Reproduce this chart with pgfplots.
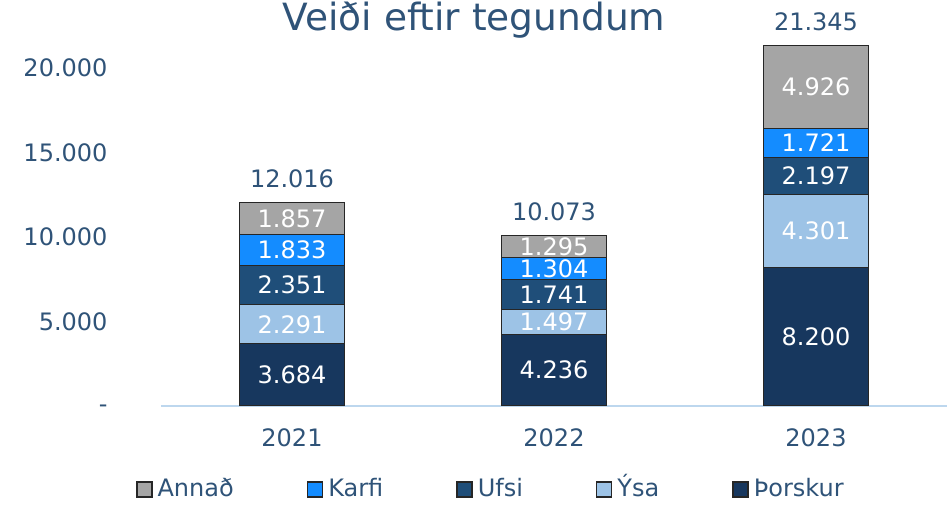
\documentclass[border=0pt]{standalone}
\usepackage{pgfplots}
\pgfplotsset{compat=1.18}
\usepackage{pgfplotstable}
\usepackage{fontspec}
\setmainfont{DejaVu Sans}
\definecolor{txt}{HTML}{2F5378}
\definecolor{cThor}{HTML}{17375E}
\definecolor{cYsa}{HTML}{9DC3E6}
\definecolor{cUfsi}{HTML}{1F4E79}
\definecolor{cKarfi}{HTML}{148CFF}
\definecolor{cAnnad}{HTML}{A5A5A5}
\definecolor{cAxis}{HTML}{BDD7EE}
\newcommand\fs{\fontsize{24}{28}\selectfont}

\pgfplotstableread{
x Thorskur Ysa Ufsi Karfi Annad
0 3684 2291 2351 1833 1857
1 4236 1497 1741 1304 1295
2 8200 4301 2197 1721 4926
}\data

\pgfplotstableread{
x y label
0 1842 3.684
0 4829.5 2.291
0 7150.5 2.351
0 9242.5 1.833
0 11087.5 1.857
1 2118 4.236
1 4984.5 1.497
1 6603.5 1.741
1 8126 1.304
1 9425.5 1.295
2 4100 8.200
2 10350.5 4.301
2 13599.5 2.197
2 15558.5 1.721
2 18882 4.926
}\labels

\pgfplotstableread{
x y label
0 12016 12.016
1 10073 10.073
2 21345 21.345
}\totals

\begin{document}
\begin{tikzpicture}
\pgfplotsset{
  common/.style={
    at={(161pt,99pt)}, anchor=south west,
    scale only axis, width=786pt, height=372pt,
    xmin=-0.5, xmax=2.5, ymin=0, ymax=22000,
    scaled y ticks=false,
    /pgf/number format/assume math mode=true,
  }
}
\begin{axis}[
  common,
  ybar stacked, bar width=105pt,
  axis lines*=left,
  y axis line style={draw=none},
  x axis line style={draw=cAxis, line width=2pt},
  major tick length=0pt,
  xtick={0,1,2}, xticklabels={2021,2022,2023},
  ytick={0,5000,10000,15000,20000},
  yticklabels={\raisebox{-7pt}[0pt][0pt]{-},5.000,10.000,15.000,20.000},
  ticklabel style={font=\fs, text=txt},
  xticklabel style={yshift=-19pt},
  yticklabel style={xshift=-50pt},
  reverse legend,
  legend columns=5,
  legend style={draw=none, fill=none, font=\fs, text=txt,
    at={(-0.032,-0.226)}, anchor=west, inner xsep=0pt,
    nodes={text height=18pt, text depth=5pt, inner xsep=5pt},
    /tikz/every even column/.append style={column sep=68pt}},
  legend image code/.code={\draw[#1, draw=black!85, line width=1.5pt] (0pt,-7pt) rectangle (15pt,8pt);},
]
\addplot[fill=cThor, draw=black!85, line width=1pt] table[x=x, y=Thorskur] {\data};
\addlegendentry{Þorskur}
\addplot[fill=cYsa, draw=black!85, line width=1pt] table[x=x, y=Ysa] {\data};
\addlegendentry{Ýsa}
\addplot[fill=cUfsi, draw=black!85, line width=1pt] table[x=x, y=Ufsi] {\data};
\addlegendentry{Ufsi}
\addplot[fill=cKarfi, draw=black!85, line width=1pt] table[x=x, y=Karfi] {\data};
\addlegendentry{Karfi}
\addplot[fill=cAnnad, draw=black!85, line width=1pt] table[x=x, y=Annad] {\data};
\addlegendentry{Annað}
\end{axis}
\begin{axis}[common, hide axis, clip=false]
\addplot[only marks, mark=none, nodes near coords, point meta=explicit symbolic,
  every node near coord/.style={anchor=center, text=white, font=\fs}]
  table[x=x, y=y, meta=label] {\labels};
\addplot[only marks, mark=none, nodes near coords, point meta=explicit symbolic,
  every node near coord/.style={anchor=south, yshift=11pt, text=txt, font=\fs}]
  table[x=x, y=y, meta=label] {\totals};
\end{axis}
\node[text=txt, font=\fontsize{37.5}{40}\selectfont] at (474pt,485pt) {Veiði eftir tegundum};
\pgfresetboundingbox
\path (0pt,0pt) rectangle (947pt,505pt);
\end{tikzpicture}
\end{document}
